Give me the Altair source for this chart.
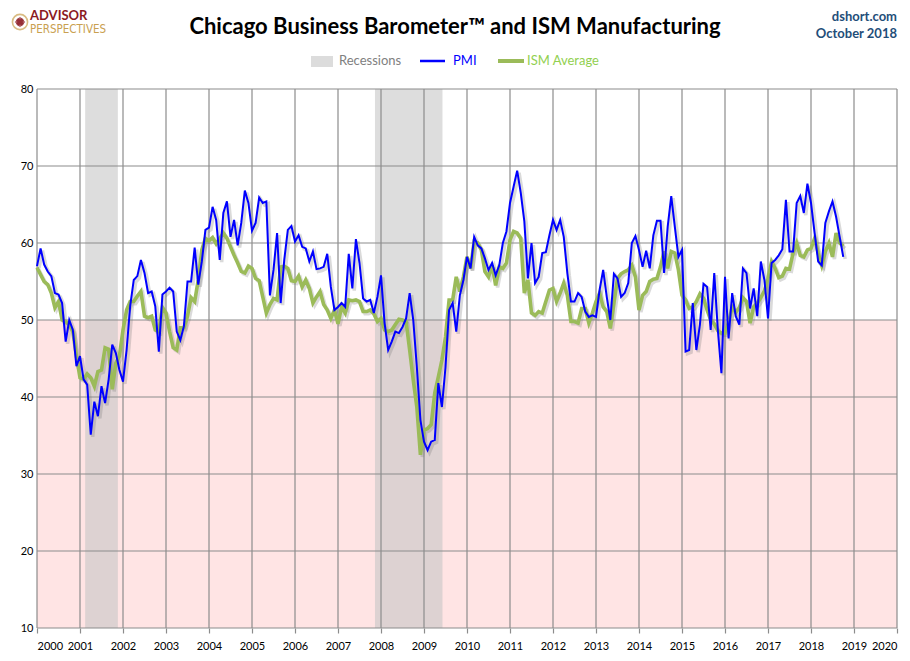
import altair as alt
import pandas as pd

# ---------------- data ----------------
start_month = "2000-01-01"

pmi = [
    57.0, 59.3, 57.2, 56.3, 55.7, 53.5, 53.3, 52.2, 47.2, 50.0, 48.7, 44.0,
    45.3, 42.3, 41.6, 35.1, 39.4, 37.5, 41.4, 39.2, 42.3, 46.8, 45.7, 43.5,
    42.0, 46.1, 51.8, 55.2, 55.7, 57.8, 56.1, 53.5, 53.7, 51.8, 45.9, 53.3,
    53.7, 54.2, 53.7, 48.5, 47.4, 49.2, 55.0, 55.0, 59.4, 54.6, 57.6, 61.7,
    62.0, 64.7, 63.0, 57.8, 63.9, 65.4, 60.8, 63.0, 59.7, 62.6, 66.8, 65.2,
    61.6, 62.6, 65.9, 65.2, 65.4, 53.2, 56.5, 61.3, 52.2, 57.8, 61.7, 62.2,
    60.2, 61.0, 59.5, 59.3, 57.6, 58.9, 56.6, 56.7, 56.9, 58.6, 54.3, 51.3,
    51.7, 52.2, 51.7, 58.6, 54.1, 60.5, 57.4, 52.8, 52.4, 52.6, 50.9, 53.0,
    55.8, 49.6, 46.1, 47.2, 48.5, 48.3, 49.1, 50.2, 53.5, 50.0, 43.9, 37.0,
    34.2, 33.1, 34.2, 34.4, 41.8, 38.7, 43.9, 51.3, 52.2, 48.5, 53.2, 55.2,
    58.2, 56.7, 60.8, 59.7, 59.3, 58.0, 56.5, 57.4, 55.8, 57.1, 60.0, 61.5,
    65.2, 67.3, 69.4, 66.5, 62.8, 55.4, 60.0, 54.8, 55.6, 58.7, 58.8, 61.0,
    63.0, 61.7, 63.0, 60.8, 56.1, 52.4, 52.4, 53.5, 53.0, 51.1, 50.4, 50.6,
    50.4, 53.9, 56.5, 53.0, 50.0, 56.0, 55.4, 53.0, 53.5, 54.8, 60.0, 60.9,
    59.1, 56.9, 59.0, 56.7, 61.0, 62.9, 62.9, 56.1, 62.1, 66.1, 62.1, 58.2,
    59.1, 45.9, 46.1, 52.2, 46.1, 49.4, 54.7, 54.3, 48.7, 56.1, 48.7, 43.1,
    55.6, 47.6, 53.5, 50.5, 49.4, 56.7, 56.1, 51.5, 54.1, 50.5, 57.6, 55.2,
    50.2, 57.4, 57.8, 58.4, 59.2, 65.6, 58.9, 58.9, 65.2, 66.1, 63.9, 67.7,
    65.2, 61.3, 57.6, 57.1, 62.6, 64.1, 65.4, 63.4, 60.8, 58.2,
]

ism_avg = [
    56.8, 55.9, 55.0, 54.6, 53.5, 51.6, 52.4, 50.0, 49.8, 49.4, 48.5, 45.3,
    42.5, 42.3, 43.0, 42.5, 41.4, 43.3, 43.5, 46.4, 46.2, 41.0, 44.4, 45.3,
    48.7, 51.3, 52.4, 52.4, 53.1, 53.7, 50.5, 50.3, 50.5, 48.7, 48.5, 51.6,
    50.9, 48.5, 46.4, 46.1, 49.0, 49.0, 50.5, 52.9, 52.4, 55.2, 59.1, 60.6,
    60.3, 60.7, 59.9, 60.6, 61.3, 60.6, 59.5, 58.4, 57.4, 56.3, 56.1, 57.0,
    56.7, 55.4, 55.1, 53.0, 50.9, 52.0, 52.8, 52.6, 56.9, 57.0, 56.7, 55.1,
    55.0, 55.7, 54.3, 55.2, 54.1, 52.2, 53.0, 53.7, 52.0, 51.3, 50.2, 51.3,
    49.5, 51.7, 50.9, 52.6, 52.5, 52.6, 52.4, 51.1, 51.1, 51.3, 50.8, 49.8,
    50.2, 48.7, 48.5, 48.7, 49.4, 50.1, 50.0, 49.8, 46.1, 42.2, 38.7, 32.5,
    35.7, 35.9, 36.4, 40.5, 42.6, 44.8, 47.8, 52.6, 52.6, 55.6, 53.7, 55.6,
    58.2, 56.7, 60.2, 60.0, 59.1, 56.3, 55.6, 57.1, 54.5, 56.9, 56.7, 57.4,
    60.4, 61.5, 61.3, 60.6, 53.5, 55.2, 50.9, 50.6, 51.1, 50.9, 52.4, 53.9,
    54.1, 52.4, 53.5, 54.8, 53.2, 49.8, 49.8, 49.6, 51.5, 51.5, 49.6, 50.9,
    52.4, 53.5, 51.7, 51.1, 48.9, 52.2, 55.4, 56.0, 56.3, 56.5, 57.1, 55.6,
    51.3, 53.2, 53.7, 55.0, 55.3, 55.4, 56.9, 58.9, 56.7, 58.9, 58.7, 56.5,
    53.2, 52.6, 51.5, 51.7, 52.4, 53.4, 52.8, 51.3, 50.0, 49.5, 48.6, 48.3,
    48.3, 49.7, 51.7, 51.0, 51.6, 52.9, 52.4, 49.6, 51.7, 52.2, 52.9, 53.8,
    55.4, 57.6, 56.7, 55.5, 55.7, 56.7, 56.6, 58.7, 60.0, 58.4, 58.2, 59.1,
    59.3, 60.6, 58.7, 57.1, 58.9, 60.0, 58.2, 61.3, 60.0, 59.6,
]

recession_start = [2001.12, 2007.86]
recession_end = [2001.88, 2009.43]

contraction_low = [10]
contraction_high = [50]

year_ticks = list(range(2000, 2021))
value_ticks = list(range(10, 90, 10))

# ---------------- tables ----------------
dates = pd.date_range(start_month, periods=len(pmi), freq="MS")
dec_year = [d.year + (d.month - 1) / 12 for d in dates]
lines_df = pd.DataFrame({
    "year": dec_year * 2,
    "value": pmi + ism_avg,
    "series": ["PMI"] * len(pmi) + ["ISM Average"] * len(ism_avg),
})
rec_df = pd.DataFrame({"s": recession_start, "e": recession_end})
zone_df = pd.DataFrame({"x": [year_ticks[0]], "x2": [year_ticks[-1]],
                        "y": contraction_low, "y2": contraction_high})
vgrid_df = pd.DataFrame({"year": year_ticks})
hgrid_df = pd.DataFrame({"v": value_ticks})

FONT = "Lato"
W, H = 860, 539
xs = alt.Scale(domain=[2000, 2020], nice=False, zero=False)
ys = alt.Scale(domain=[10, 80], nice=False, zero=False)

xaxis = alt.Axis(values=year_ticks, format="d", grid=False, domain=False,
                 ticks=True, tickSize=5, tickColor="#8c8c8c", tickWidth=1.2,
                 labelFont=FONT, labelFontSize=11, labelColor="#000000",
                 labelPadding=7, title=None)
yaxis = alt.Axis(values=value_ticks, grid=False, domain=False, ticks=False,
                 labelFont=FONT, labelFontSize=11, labelColor="#000000",
                 labelPadding=4, title=None)

zone = alt.Chart(zone_df).mark_rect(color="#ffe4e4").encode(
    x=alt.X("x:Q", scale=xs, axis=xaxis), x2="x2:Q",
    y=alt.Y("y:Q", scale=ys, axis=yaxis), y2="y2:Q")

rec = alt.Chart(rec_df).mark_rect(color="#c4c4c4", opacity=0.58).encode(
    x=alt.X("s:Q", scale=xs), x2="e:Q",
    y=alt.value(0), y2=alt.value(H))

vgrid = alt.Chart(vgrid_df).mark_rule(color="#8c8c8c", strokeWidth=1.2).encode(
    x=alt.X("year:Q", scale=xs), y=alt.value(0), y2=alt.value(H))
hgrid = alt.Chart(hgrid_df).mark_rule(color="#8c8c8c", strokeWidth=1.2).encode(
    y=alt.Y("v:Q", scale=ys), x=alt.value(0), x2=alt.value(W))

shadow = alt.Chart(lines_df).transform_calculate(
    sx="datum.year + 0.045", sy="datum.value - 0.28"
).mark_line(color="#7a7a7a", opacity=0.28, strokeWidth=3.5).encode(
    x=alt.X("sx:Q", scale=xs), y=alt.Y("sy:Q", scale=ys), detail="series:N")

green = alt.Chart(lines_df).transform_filter(
    alt.datum.series == "ISM Average"
).mark_line(strokeWidth=3.6, color="#9bbb59").encode(
    x=alt.X("year:Q", scale=xs), y=alt.Y("value:Q", scale=ys))
blue = alt.Chart(lines_df).transform_filter(
    alt.datum.series == "PMI"
).mark_line(strokeWidth=2.0, color="#0000ff").encode(
    x=alt.X("year:Q", scale=xs), y=alt.Y("value:Q", scale=ys))

one = pd.DataFrame({"a": [0]})


def txt(s, x, y, size, color, weight="normal", align="left", font=FONT):
    return alt.Chart(one).mark_text(
        text=s, align=align, baseline="middle", fontSize=size, color=color,
        fontWeight=weight, font=font).encode(x=alt.value(x), y=alt.value(y))


title = txt("Chicago Business Barometer\u2122 and ISM Manufacturing",
            418, -62, 22, "#000000", "bold", "center")
site = txt("dshort.com", 860, -72, 13, "#1f4e79", "bold", "right")
date_t = txt("October 2018", 860, -55, 13, "#1f4e79", "bold", "right")
logo1 = txt("ADVISOR", -7, -73, 13, "#8b1a22", "bold", "left")
logo2 = txt("PERSPECTIVES", -7, -59, 11.5, "#c9a050", "normal", "left",
            "DejaVu Sans Condensed, Roboto, sans-serif")
ring = alt.Chart(one).mark_point(shape="circle", size=230, filled=False,
                                 color="#c9a050", strokeWidth=1.6).encode(
    x=alt.value(-17), y=alt.value(-67))
star = alt.Chart(one).mark_point(shape="diamond", size=110, filled=True,
                                 color="#8b1a22").encode(
    x=alt.value(-17), y=alt.value(-67))
cross = alt.Chart(one).mark_point(shape="cross", size=70, filled=True,
                                  color="#8b1a22", angle=45).encode(
    x=alt.value(-17), y=alt.value(-67))

leg_box = alt.Chart(one).mark_rect(color="#dcdcdc").encode(
    x=alt.value(274), x2=alt.value(296), y=alt.value(-33), y2=alt.value(-22))
leg_rec = txt("Recessions", 302, -28, 13, "#808080")
leg_blue = alt.Chart(one).mark_rule(color="#0000ff", strokeWidth=2.5).encode(
    x=alt.value(383), x2=alt.value(408), y=alt.value(-28))
leg_pmi = txt("PMI", 416, -28, 13, "#0000ff")
leg_green = alt.Chart(one).mark_rule(color="#9bbb59", strokeWidth=4).encode(
    x=alt.value(461), x2=alt.value(487), y=alt.value(-28))
leg_ism = txt("ISM Average", 490, -28, 13, "#92d050")

chart = alt.layer(
    zone, rec, vgrid, hgrid, shadow, green, blue,
    title, site, date_t, logo1, logo2, ring, cross, star,
    leg_box, leg_rec, leg_blue, leg_pmi, leg_green, leg_ism,
).properties(
    width=W, height=H,
    autosize=alt.AutoSizeParams(type="none"),
    padding={"left": 29, "top": 81, "right": 5, "bottom": 22},
    background="white",
).configure_view(stroke=None)

chart.save("out.html", embed_options={"renderer": "svg", "actions": False})
